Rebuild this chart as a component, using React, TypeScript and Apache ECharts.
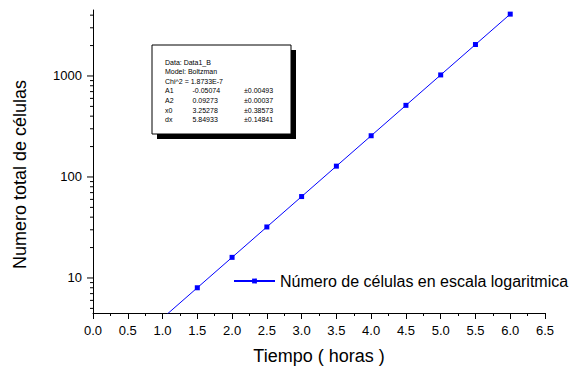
import React, { useEffect, useRef } from 'react';
import * as echarts from 'echarts';

const hours = [1.0, 1.5, 2.0, 2.5, 3.0, 3.5, 4.0, 4.5, 5.0, 5.5, 6.0];
const cells = [4, 8, 16, 32, 64, 128, 256, 512, 1024, 2048, 4096];
const seriesName = 'Número de células en escala logaritmica';
const xTitle = 'Tiempo ( horas )';
const yTitle = 'Numero total de células';
const yMajorTicks = [10, 100, 1000];
const yMinorTicks = [5, 6, 7, 8, 9, 20, 30, 40, 50, 60, 70, 80, 90, 200, 300, 400, 500, 600, 700, 800, 900, 2000, 3000, 4000];
const fitHeader = ['Data: Data1_B', 'Model: Boltzman', 'Chi^2 = 1.8733E-7'];
const fitNames = ['A1', 'A2', 'x0', 'dx'];
const fitValues = ['-0.05074', '0.09273', '3.25278', '5.84933'];
const fitErrors = ['±0.00493', '±0.00037', '±0.38573', '±0.14841'];

const FONT = '"Liberation Sans", Arial, Helvetica, sans-serif';

export default function App() {
  const ref = useRef<HTMLDivElement>(null);
  useEffect(() => {
    if (!ref.current) return;
    const chart = echarts.init(ref.current, undefined, { renderer: 'svg' });

    const boxX = 152, boxY = 45, boxW = 139, boxH = 89;
    const rowY0 = 62, rowStep = 9.6, fs = 7;
    const boxTexts: any[] = [];
    fitHeader.forEach((t, i) => {
      boxTexts.push({ type: 'text', left: 165, top: rowY0 + i * rowStep - fs / 2, style: { text: t, fill: '#000', font: `${fs}px ${FONT}` } });
    });
    fitNames.forEach((t, i) => {
      const y = rowY0 + (i + 3) * rowStep - fs / 2;
      boxTexts.push({ type: 'text', left: 165, top: y, style: { text: t, fill: '#000', font: `${fs}px ${FONT}` } });
      boxTexts.push({ type: 'text', left: 192.5, top: y, style: { text: fitValues[i], fill: '#000', font: `${fs}px ${FONT}` } });
      boxTexts.push({ type: 'text', left: 244, top: y, style: { text: fitErrors[i], fill: '#000', font: `${fs}px ${FONT}` } });
    });

    const tickData = [
      ...yMajorTicks.map((v) => [0, v, 1]),
      ...yMinorTicks.map((v) => [0, v, 0]),
    ];

    chart.setOption({
      animation: false,
      backgroundColor: '#fff',
      textStyle: { fontFamily: FONT },
      grid: { left: 93, top: 10, width: 452, height: 303 },
      legend: {
        data: [seriesName],
        left: 233,
        top: 273,
        padding: 0,
        itemWidth: 41,
        itemHeight: 6,
        textStyle: { fontSize: 16, color: '#000', fontFamily: FONT },
      },
      xAxis: {
        type: 'value',
        min: 0,
        max: 6.5,
        interval: 0.5,
        name: xTitle,
        nameLocation: 'middle',
        nameGap: 34,
        nameTextStyle: { fontSize: 18, color: '#000', fontFamily: FONT },
        axisLine: { show: true, lineStyle: { color: '#000', width: 1 } },
        axisTick: { show: true, inside: false, length: 6, lineStyle: { color: '#000' } },
        minorTick: { show: true, splitNumber: 2, length: 3, lineStyle: { color: '#000' } },
        splitLine: { show: false },
        axisLabel: { fontSize: 13, color: '#000', margin: 11, fontFamily: FONT, formatter: (v: number) => v.toFixed(1) },
      },
      yAxis: {
        type: 'log',
        logBase: 10,
        min: 4.5,
        max: 4500,
        name: yTitle,
        nameLocation: 'middle',
        nameRotate: 90,
        nameGap: 64,
        nameTextStyle: { fontSize: 18, color: '#000', fontFamily: FONT, padding: [0, 26, 0, 0] },
        axisLine: { show: true, lineStyle: { color: '#000', width: 1 } },
        axisTick: { show: false },
        splitLine: { show: false },
        axisLabel: {
          fontSize: 13,
          color: '#000',
          margin: 11,
          fontFamily: FONT,
          formatter: (v: number) => {
            const l = Math.log10(v);
            return Math.abs(l - Math.round(l)) < 1e-6 ? String(Math.round(v)) : '';
          },
        },
      },
      series: [
        {
          name: seriesName,
          type: 'line',
          data: hours.map((h, i) => [h, cells[i]]),
          symbol: 'rect',
          symbolSize: 5,
          clip: true,
          itemStyle: { color: '#0000ff' },
          lineStyle: { color: '#0000ff', width: 1 },
          z: 3,
        },
        {
          name: 'yticks',
          type: 'custom',
          silent: true,
          clip: false,
          data: tickData,
          renderItem: (params: any, api: any) => {
            const p = api.coord([api.value(0), api.value(1)]);
            const len = api.value(2) === 1 ? 6 : 3;
            return {
              type: 'line',
              shape: { x1: p[0] - len, y1: p[1], x2: p[0], y2: p[1] },
              style: { stroke: '#000', lineWidth: 1 },
            };
          },
          z: 4,
        },
      ],
      graphic: [
        { type: 'rect', shape: { x: boxX + 5, y: boxY + 5, width: boxW, height: boxH }, style: { fill: '#000' }, z: 10 },
        { type: 'rect', shape: { x: boxX, y: boxY, width: boxW, height: boxH }, style: { fill: '#fff', stroke: '#000', lineWidth: 1 }, z: 11 },
        ...boxTexts.map((t) => ({ ...t, z: 12 })),
      ],
    });
    return () => chart.dispose();
  }, []);
  return <div ref={ref} style={{ position: 'absolute', left: 0, top: 0, width: 576, height: 370 }} />;
}
